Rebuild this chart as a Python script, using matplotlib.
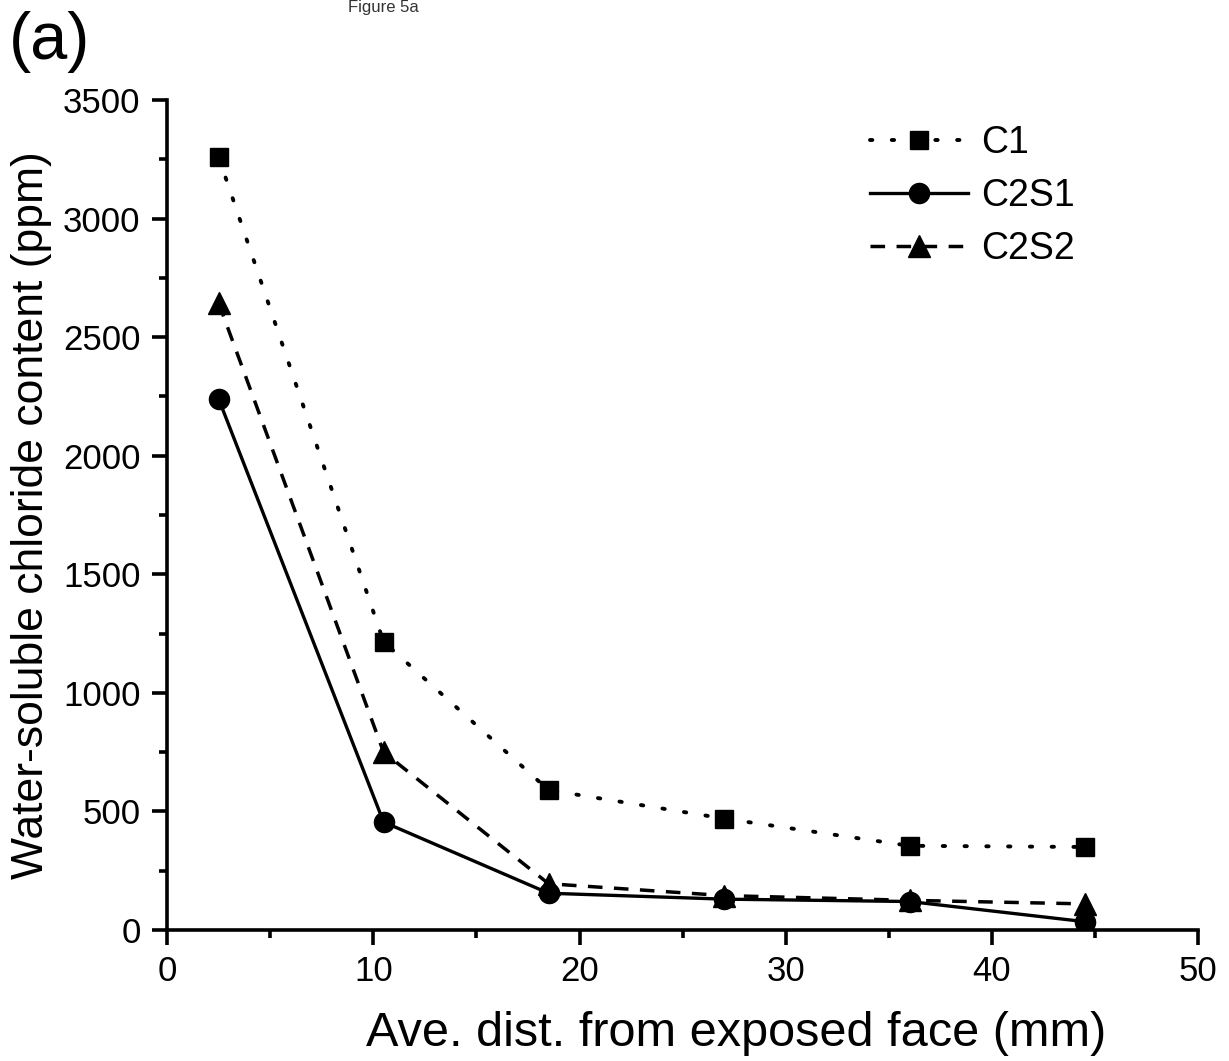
import matplotlib
matplotlib.use('Agg')
import matplotlib.pyplot as plt
from matplotlib.ticker import MultipleLocator

# distance from exposed face (mm)
dist = [2.5, 10.5, 18.5, 27, 36, 44.5]

# water-soluble chloride content (ppm)
c1 = [3260, 1215, 590, 470, 355, 350]
c2s1 = [2240, 455, 155, 130, 120, 35]
c2s2 = [2645, 750, 195, 145, 125, 110]

plt.rcParams['font.family'] = ['Liberation Sans', 'DejaVu Sans']

fig = plt.figure(figsize=(12.29, 10.61), dpi=100)
ax = fig.add_axes([0.1359, 0.1235, 0.8391, 0.7822])

ax.plot(dist, c1, color='black', lw=2.8, linestyle=(0, (0.6, 5)),
        dash_capstyle='round', marker='s', ms=13, label='C1')
ax.plot(dist, c2s1, color='black', lw=2.4, linestyle='-',
        marker='o', ms=14.5, label='C2S1')
ax.plot(dist, c2s2, color='black', lw=2.5, linestyle=(0, (4.2, 3.3)),
        marker='^', ms=16, label='C2S2')

ax.set_xlim(0, 50)
ax.set_ylim(0, 3500)
ax.xaxis.set_major_locator(MultipleLocator(10))
ax.xaxis.set_minor_locator(MultipleLocator(5))
ax.yaxis.set_major_locator(MultipleLocator(500))
ax.yaxis.set_minor_locator(MultipleLocator(250))

for side in ['top', 'right']:
    ax.spines[side].set_visible(False)
for side in ['left', 'bottom']:
    ax.spines[side].set_linewidth(2.6)

ax.tick_params(which='major', direction='out', length=11, width=2.6,
               labelsize=25)
ax.tick_params(axis='x', which='major', pad=7)
ax.tick_params(axis='y', which='major', pad=8)
ax.tick_params(which='minor', direction='out', length=6, width=2.6)

ax.set_xlabel('Ave. dist. from exposed face (mm)', fontsize=35)
ax.xaxis.set_label_coords(0.552, -0.098)
ax.set_ylabel('Water-soluble chloride content (ppm)', fontsize=32, labelpad=8)

leg = ax.legend(loc='upper left', bbox_to_anchor=(0.682, 0.97), frameon=False,
                fontsize=27, handlelength=2.6, handletextpad=0.35,
                labelspacing=0.45, borderpad=0, borderaxespad=0)

fig.text(0.007, 1 - 11 / 1061, '(a)', fontsize=48, va='top')
fig.text(0.283, 1.0, 'Figure 5a', fontsize=12, color='#333333', va='top')

fig.savefig('out.png', dpi=100)
